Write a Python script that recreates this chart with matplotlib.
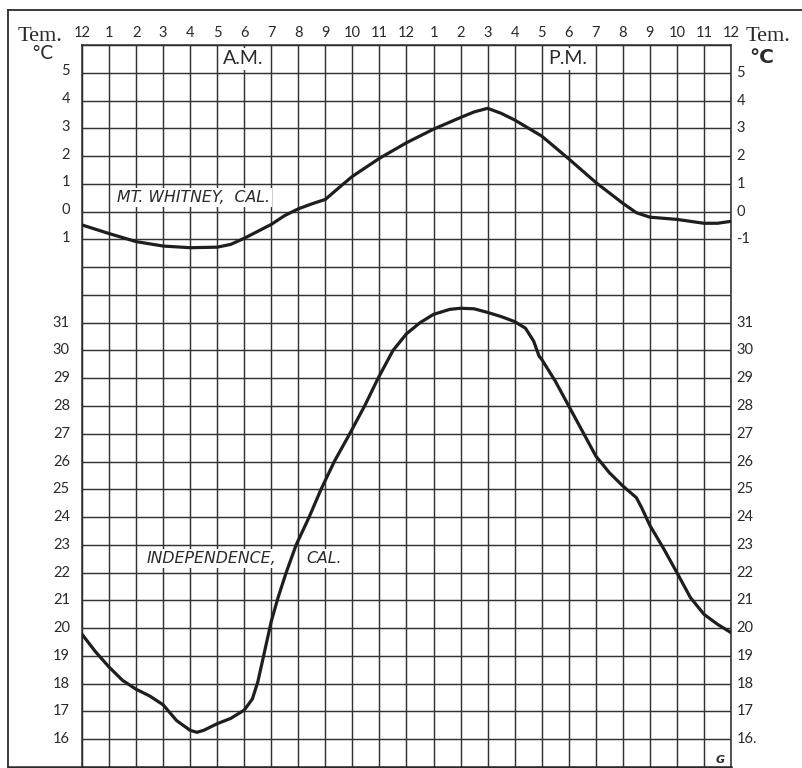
import matplotlib
matplotlib.use("Agg")
import matplotlib.pyplot as plt
from matplotlib.lines import Line2D

# ---------------- data ----------------
hour_labels = ['12'] + [str(h) for h in range(1, 12)] + ['12'] + [str(h) for h in range(1, 12)] + ['12']

# Mt. Whitney (upper scale, deg C)
whitney_hours = [0, 1, 2, 3, 4, 5, 5.5, 6, 7, 7.5, 8, 8.5, 9, 9.5, 10, 11, 12, 13, 14,
                 14.5, 15, 15.5, 16, 17, 18, 19, 20, 20.5, 21, 22, 23, 23.5, 24]
whitney_temp = [-0.48, -0.79, -1.08, -1.24, -1.30, -1.28, -1.18, -0.96, -0.46, -0.14, 0.10,
                0.28, 0.44, 0.86, 1.27, 1.92, 2.48, 2.97, 3.39, 3.59, 3.72, 3.54, 3.30, 2.72,
                1.90, 1.05, 0.30, -0.04, -0.20, -0.28, -0.42, -0.42, -0.35]

# Independence (lower scale, deg C)
indep_hours = [0, 0.5, 1, 1.5, 2, 2.5, 3, 3.5, 4, 4.25, 4.5, 5, 5.5, 6, 6.3, 6.5, 6.75, 7,
               7.25, 7.55, 7.92, 8.4, 8.84, 9.33, 9.9, 10.45, 10.95, 11.5, 12, 12.5, 13,
               13.6, 14, 14.5, 15, 15.5, 16, 16.4, 16.7, 16.9, 17, 17.5, 18, 18.5, 19, 19.5,
               20, 20.5, 20.7, 21, 21.5, 22, 22.5, 23, 23.5, 24]
indep_temp = [19.78, 19.15, 18.6, 18.12, 17.8, 17.56, 17.24, 16.67, 16.32, 16.25, 16.32,
              16.56, 16.75, 17.05, 17.45, 18.06, 19.15, 20.25, 21.1, 22.0, 23.0, 24.0, 25.0,
              26.0, 27.0, 28.0, 29.0, 30.0, 30.6, 31.0, 31.3, 31.48, 31.52, 31.5, 31.37,
              31.22, 31.04, 30.8, 30.34, 29.8, 29.68, 28.9, 28.0, 27.1, 26.2, 25.6, 25.12,
              24.7, 24.33, 23.7, 22.88, 22.0, 21.1, 20.5, 20.14, 19.84]

upper_ticks = [5, 4, 3, 2, 1, 0, -1]
upper_left_labels = ['5', '4', '3', '2', '1', '0', '1']
upper_right_labels = ['5', '4', '3', '2', '1', '0', '-1']
lower_ticks = list(range(31, 15, -1))
lower_right_labels = [str(v) for v in lower_ticks[:-1]] + ['16.']

UPPER_OFFSET = 35   # upper scale drawn on the same grid, 0 C -> row 35

# ---------------- figure ----------------
W, H = 803, 768
fig = plt.figure(figsize=(W / 100, H / 100), dpi=100)
fig.patch.set_facecolor('white')

x0, x1 = 82, 731
ytop, ybot = 45, 767
ax = fig.add_axes([x0 / W, (H - ybot) / H, (x1 - x0) / W, (ybot - ytop) / H])
ax.set_xlim(0, 24)
ax.set_ylim(15, 41)
ax.set_xticks(range(25))
ax.set_yticks(range(15, 42))
ax.tick_params(length=0, labelbottom=False, labelleft=False)
ax.grid(True, color='#333333', linewidth=1.05)
for s in ax.spines.values():
    s.set_color('#2a2a2a')
    s.set_linewidth(1.1)
ax.spines['bottom'].set_linewidth(1.8)

line_kw = dict(color='#1e1e1e', linewidth=2.3, solid_capstyle='round',
               solid_joinstyle='round', zorder=5)
ax.plot(whitney_hours, [t + UPPER_OFFSET for t in whitney_temp], **line_kw)
ax.plot(indep_hours, indep_temp, **line_kw)

num_font = dict(family='Lato', fontsize=10.5, color='#2a2a2a')

# hour labels on top
for i, lab in enumerate(hour_labels):
    ax.text(i, 41.45, lab, ha='center', va='center', clip_on=False, **num_font)

# y labels
for v, l, r in zip(upper_ticks, upper_left_labels, upper_right_labels):
    ax.text(-0.45, v + UPPER_OFFSET + 0.05, l, ha='right', va='center', clip_on=False, **num_font)
    ax.text(24.2, v + UPPER_OFFSET, r, ha='left', va='center', clip_on=False, **num_font)
for v, r in zip(lower_ticks, lower_right_labels):
    ax.text(-0.45, v, str(v), ha='right', va='center', clip_on=False, **num_font)
    ax.text(24.2, v, r, ha='left', va='center', clip_on=False, **num_font)

# unit headers
ax.text(-1.55, 41.32, 'Tem.', ha='center', va='center', family='Liberation Serif',
        fontsize=16, color='#2a2a2a', clip_on=False)
ax.text(-1.45, 40.68, '°C', ha='center', va='center', family='DejaVu Sans',
        fontsize=13.5, color='#2a2a2a', clip_on=False)
ax.text(25.35, 41.32, 'Tem.', ha='center', va='center', family='Liberation Serif',
        fontsize=16, color='#2a2a2a', clip_on=False)
ax.text(25.15, 40.55, '°C', ha='center', va='center', family='DejaVu Sans',
        fontsize=14.5, fontweight='bold', color='#2a2a2a', clip_on=False)

box = dict(facecolor='white', edgecolor='none', pad=1.5)
ax.text(5.95, 40.5, 'A.M.', ha='center', va='center', family='Lato', fontsize=14,
        color='#2a2a2a', bbox=box, zorder=4)
ax.text(17.95, 40.5, 'P.M.', ha='center', va='center', family='Lato', fontsize=14,
        color='#2a2a2a', bbox=box, zorder=4)

lab_font = dict(family='DejaVu Sans', style='italic', fontsize=11.3, color='#2a2a2a')
ax.text(1.3, 35.5, 'MT. WHITNEY,  CAL.', ha='left', va='center', bbox=box, zorder=4, **lab_font)
ax.text(2.4, 22.5, 'INDEPENDENCE,', ha='left', va='center', bbox=box, zorder=4, **lab_font)
ax.text(8.3, 22.5, 'CAL.', ha='left', va='center', bbox=box, zorder=4, **lab_font)

ax.text(23.6, 15.25, 'G', ha='center', va='center', family='DejaVu Sans', style='italic',
        fontweight='bold', fontsize=8, color='#2a2a2a', clip_on=False)

# outer frame of the plate (top and left edges)
fx0 = 8 / W
fy_top = 1 - 10 / H
fig.add_artist(Line2D([fx0, 1.0], [fy_top, fy_top], transform=fig.transFigure,
                      color='#2a2a2a', linewidth=1.3))
fig.add_artist(Line2D([fx0, fx0], [fy_top, (H - ybot) / H], transform=fig.transFigure,
                      color='#2a2a2a', linewidth=1.3))
fig.add_artist(Line2D([fx0, x0 / W], [(H - ybot) / H, (H - ybot) / H], transform=fig.transFigure,
                      color='#2a2a2a', linewidth=1.8))

fig.savefig('out.png', dpi=100, facecolor='white')
